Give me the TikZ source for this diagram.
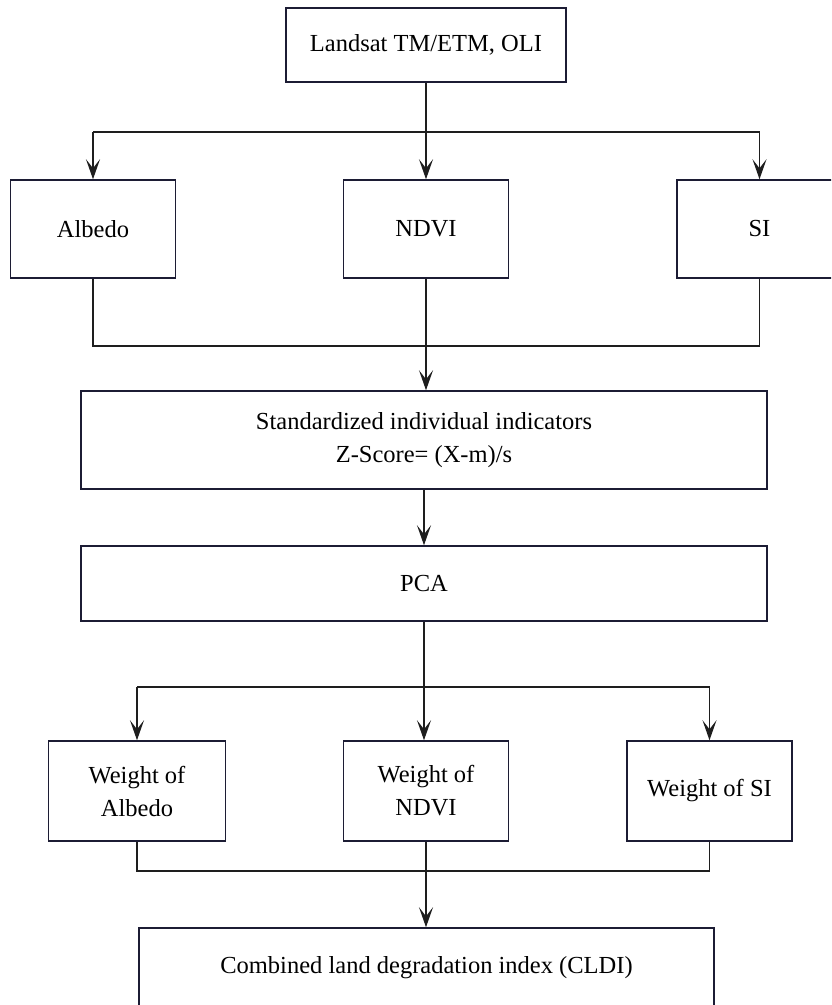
\documentclass[tikz,border=0pt]{standalone}
\usepackage{fontspec}
\setmainfont{Liberation Serif}
\usetikzlibrary{arrows.meta}
\definecolor{boxline}{RGB}{28,28,52}
\definecolor{conn}{RGB}{30,30,30}
\begin{document}
\begin{tikzpicture}[x=1pt,y=-1pt,
  box/.style={draw=boxline,line width=1.5pt,fill=white,inner sep=0pt,align=center,
    font=\fontsize{24.5}{33}\selectfont},
  link/.style={draw=conn,line width=1.5pt},
  arr/.style={link,-{Stealth[length=20pt,width=14pt,inset=9pt]}}]
\clip (0,0) rectangle (831,1005);
\fill[white] (0,0) rectangle (831,1005);
% nodes
\node[box,minimum width=280pt,minimum height=74pt] (top) at (426,45) {Landsat TM/ETM, OLI};
\node[box,minimum width=165pt,minimum height=98pt] (albedo) at (93,229) {Albedo};
\node[box,minimum width=165pt,minimum height=98pt] (ndvi) at (426,229) {NDVI};
\node[box,minimum width=165pt,minimum height=98pt] (si) at (759.5,229) {SI};
\node[box,minimum width=686pt,minimum height=98pt] (std) at (424,440) {Standardized individual indicators\\Z-Score= (X-m)/s};
\node[box,minimum width=686pt,minimum height=75pt] (pca) at (424,583.5) {PCA};
\node[box,minimum width=177pt,minimum height=100pt] (walb) at (137,791) {Weight of\\Albedo};
\node[box,minimum width=165pt,minimum height=100pt] (wndvi) at (426,791) {Weight of\\NDVI};
\node[box,minimum width=165pt,minimum height=100pt] (wsi) at (709.5,791) {Weight of SI};
\node[box,minimum width=575pt,minimum height=80pt] (cldi) at (426.5,968) {Combined land degradation index (CLDI)};
% junction levels
\coordinate (j1) at (0,132);
\coordinate (j2) at (0,346);
\coordinate (j3) at (0,687);
\coordinate (j4) at (0,871);
% top to indicators
\draw[link] (albedo.north |- j1) -- (si.north |- j1);
\draw[arr] (top.south) -- (ndvi.north);
\draw[arr] (albedo.north |- j1) -- (albedo.north);
\draw[arr] (si.north |- j1) -- (si.north);
% indicators to standardized
\draw[link] (albedo.south) -- (albedo.south |- j2) -- (si.south |- j2) -- (si.south);
\draw[link] (ndvi.south) -- (ndvi.south |- j2);
\draw[arr] (ndvi.south |- j2) -- (ndvi.south |- std.north);
% standardized to PCA
\draw[arr] (std.south) -- (pca.north);
% PCA to weights
\draw[link] (walb.north |- j3) -- (wsi.north |- j3);
\draw[arr] (pca.south) -- (pca.south |- wndvi.north);
\draw[arr] (walb.north |- j3) -- (walb.north);
\draw[arr] (wsi.north |- j3) -- (wsi.north);
% weights to CLDI
\draw[link] (walb.south) -- (walb.south |- j4) -- (wsi.south |- j4) -- (wsi.south);
\draw[link] (wndvi.south) -- (wndvi.south |- j4);
\draw[arr] (wndvi.south |- j4) -- (wndvi.south |- cldi.north);
\end{tikzpicture}
\end{document}
